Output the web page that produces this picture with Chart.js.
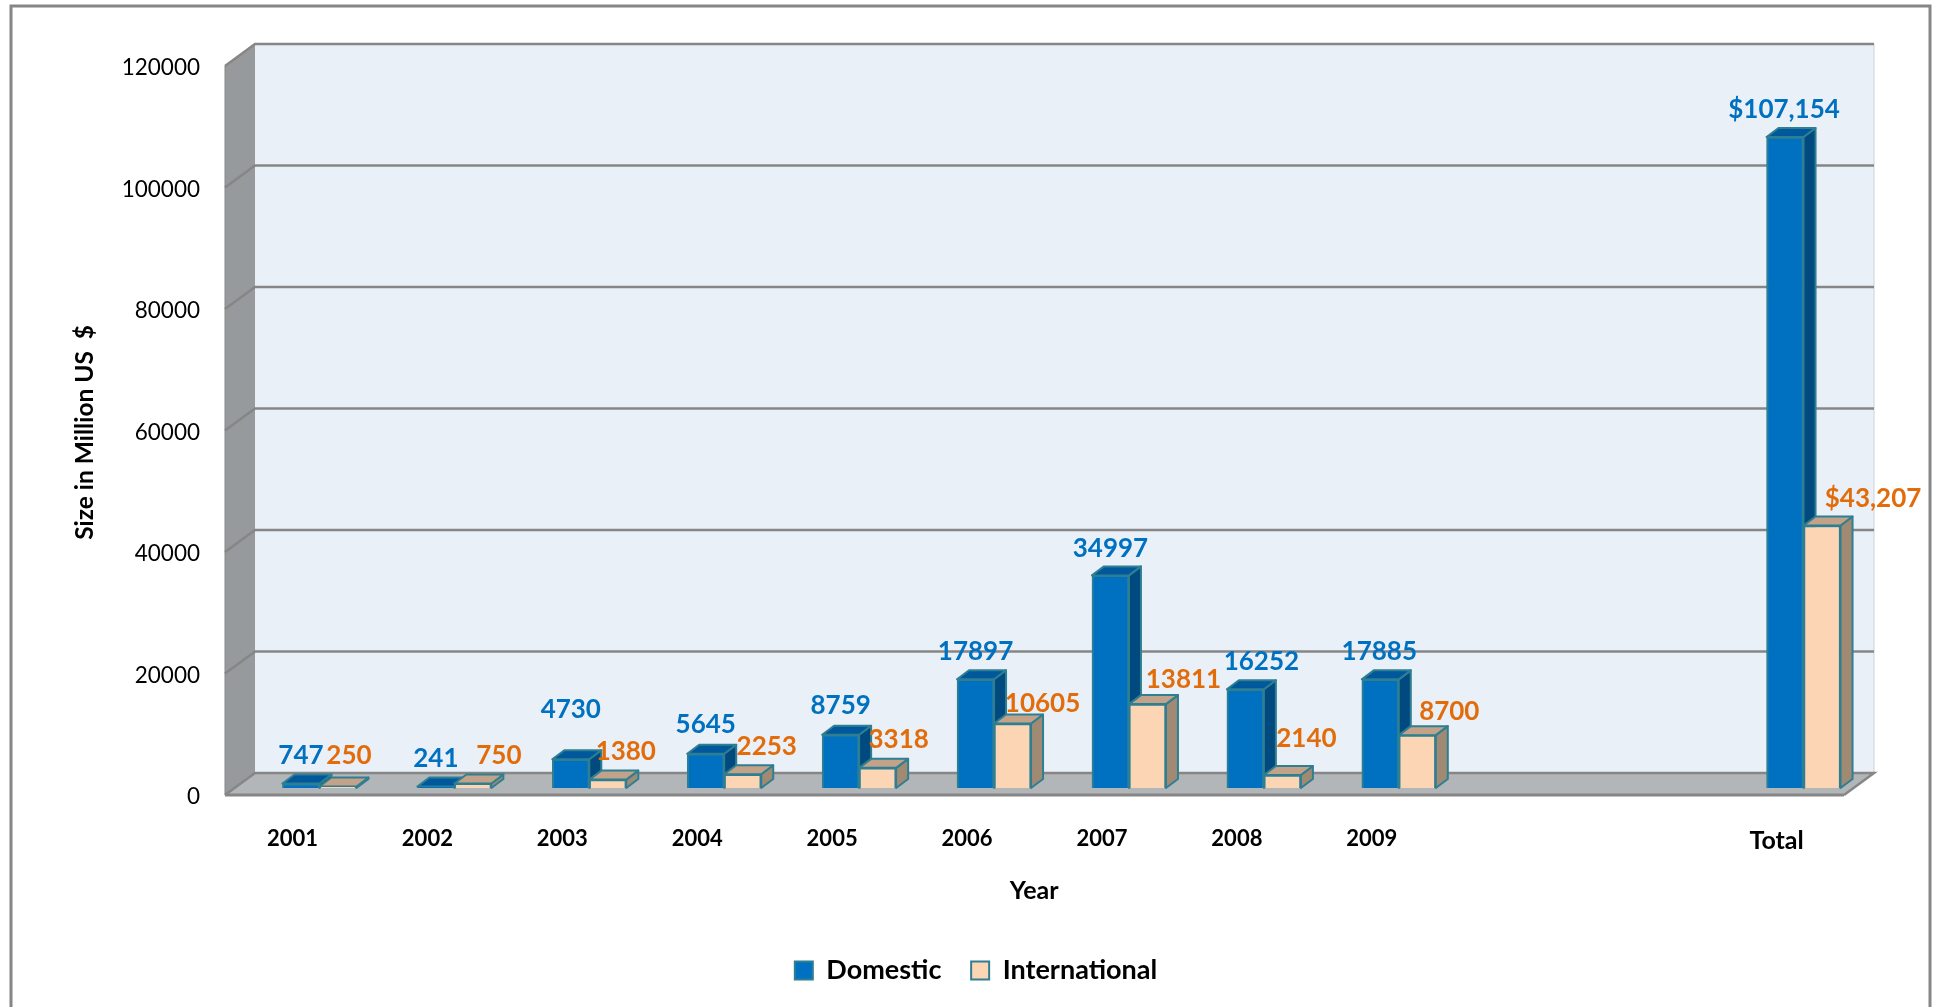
<!DOCTYPE html>
<html>
<head>
<meta charset="utf-8">
<title>Size in Million US $</title>
<script src="https://cdn.jsdelivr.net/npm/chart.js@4"></script>
<style>
    html, body { margin: 0; padding: 0; background: #fff; overflow: hidden; }
    canvas { display: block; }
</style>
</head>
<body>
<canvas id="chart" width="1937" height="1007"></canvas>
<script>
// values, two empty categories sit before Total
var categories = ['2001', '2002', '2003', '2004', '2005', '2006', '2007', '2008', '2009', '', '', 'Total'];
var domestic = [747, 241, 4730, 5645, 8759, 17897, 34997, 16252, 17885, null, null, 107154];
var international = [250, 750, 1380, 2253, 3318, 10605, 13811, 2140, 8700, null, null, 43207];

// hand placed data labels, nudge from the top centre of each bar
var domesticNudgeX = [0, 0, 0, 0, 0, 0, 0, 16, -1, 0, 0, -1];
var domesticNudgeY = [-28, -28, -50, -29, -29, -28, -27, -28, -28, 0, 0, -27];
var internationalNudgeX = [11, 26, 18, 24, 21, 30, 36, 24, 32, 0, 0, 51];
var internationalNudgeY = [-31, -28, -28, -28, -28, -20, -24, -36, -24, 0, 0, -27];

var FONT = 'Lato, "Open Sans", sans-serif';
var GRID = '#868686';

// depth of the box: front plane and back wall relative to the plane of the bars
var FRONT_DX = -27, FRONT_DY = 7;
var BACK_DX = 3, BACK_DY = -15;
var BAR_DX = 12, BAR_DY = 9;

function poly(ctx, pts, fill) {
    ctx.beginPath();
    ctx.moveTo(pts[0][0], pts[0][1]);
    for (var i = 1; i < pts.length; i++) ctx.lineTo(pts[i][0], pts[i][1]);
    ctx.closePath();
    ctx.fillStyle = fill;
    ctx.fill();
}

// walls, floor and gridlines of the 3D box
var boxPlugin = {
    id: 'box',
    beforeDraw: function (chart) {
        var ctx = chart.ctx;
        ctx.save();
        ctx.fillStyle = '#fff';
        ctx.fillRect(0, 0, chart.width, chart.height);
        ctx.strokeStyle = GRID;
        ctx.lineWidth = 3;
        ctx.strokeRect(11, 6, 1919, 1100);
        ctx.restore();
    },
    beforeDatasetsDraw: function (chart) {
        var ctx = chart.ctx, a = chart.chartArea, y = chart.scales.y;
        var fl = a.left + FRONT_DX, fr = a.right + FRONT_DX;
        var bl = a.left + BACK_DX, br = a.right + BACK_DX;
        var zero = y.getPixelForValue(0), top = y.getPixelForValue(120000);
        ctx.save();
        poly(ctx, [[bl, top + BACK_DY], [br, top + BACK_DY], [br, zero + BACK_DY], [bl, zero + BACK_DY]], '#E9F0F7');
        poly(ctx, [[fl, top + FRONT_DY], [bl, top + BACK_DY], [bl, zero + BACK_DY], [fl, zero + FRONT_DY]], '#969A9C');
        poly(ctx, [[fl, zero + FRONT_DY], [bl, zero + BACK_DY], [br, zero + BACK_DY], [fr, zero + FRONT_DY]], '#B2B6B9');

        ctx.strokeStyle = '#CBD3DB';
        ctx.lineWidth = 1;
        ctx.beginPath();
        ctx.moveTo(br, top + BACK_DY);
        ctx.lineTo(br, zero + BACK_DY);
        ctx.stroke();

        ctx.strokeStyle = GRID;
        ctx.lineWidth = 2.5;
        y.ticks.forEach(function (t) {
            var p = y.getPixelForValue(t.value);
            ctx.beginPath();
            ctx.moveTo(fl, p + FRONT_DY);
            ctx.lineTo(bl, p + BACK_DY);
            ctx.lineTo(br, p + BACK_DY);
            if (t.value === 0) ctx.lineTo(fr, p + FRONT_DY);
            ctx.stroke();
        });
        // front edges of the floor and the left wall
        ctx.lineWidth = 3;
        ctx.beginPath();
        ctx.moveTo(fl, zero + FRONT_DY);
        ctx.lineTo(fr, zero + FRONT_DY);
        ctx.stroke();
        ctx.lineWidth = 1;
        ctx.beginPath();
        ctx.moveTo(fl, top + FRONT_DY);
        ctx.lineTo(fl, zero + FRONT_DY);
        ctx.stroke();

        // top and side faces, domestic first so the international front covers its side
        ctx.strokeStyle = '#2F7F92';
        ctx.lineWidth = 2;
        ctx.lineJoin = 'round';
        chart.data.datasets.forEach(function (ds, d) {
            chart.getDatasetMeta(d).data.forEach(function (bar, i) {
                if (ds.data[i] === null) return;
                var l = bar.x - bar.width / 2, r = bar.x + bar.width / 2;
                poly(ctx, [[r, bar.y], [r + BAR_DX, bar.y - BAR_DY], [r + BAR_DX, bar.base - BAR_DY], [r, bar.base]], ds.sideColor);
                ctx.stroke();
                poly(ctx, [[l, bar.y], [l + BAR_DX, bar.y - BAR_DY], [r + BAR_DX, bar.y - BAR_DY], [r, bar.y]], ds.topColor);
                ctx.stroke();
            });
        });
        ctx.restore();
    },
    afterDatasetsDraw: function (chart) {
        var ctx = chart.ctx;
        ctx.save();
        ctx.font = 'bold 26px ' + FONT;
        ctx.textAlign = 'center';
        ctx.textBaseline = 'middle';
        chart.data.datasets.forEach(function (ds, d) {
            ctx.fillStyle = ds.labelColor;
            chart.getDatasetMeta(d).data.forEach(function (bar, i) {
                var v = ds.data[i];
                if (v === null) return;
                var text = categories[i] === 'Total' ? '$' + v.toLocaleString('en-US') : String(v);
                ctx.fillText(text, bar.x + ds.nudgeX[i], bar.y + ds.nudgeY[i]);
            });
        });
        ctx.restore();
    }
};

new Chart(document.getElementById('chart'), {
    type: 'bar',
    data: {
        labels: categories,
        datasets: [{
            label: 'Domestic',
            data: domestic,
            backgroundColor: '#0070C0',
            borderColor: '#2F7F92',
            borderWidth: 2,
            topColor: '#00589C',
            sideColor: '#004A7F',
            labelColor: '#0070C0',
            nudgeX: domesticNudgeX,
            nudgeY: domesticNudgeY
        }, {
            label: 'International',
            data: international,
            backgroundColor: '#FCD5B5',
            borderColor: '#2F7F92',
            borderWidth: 2,
            topColor: '#C2A288',
            sideColor: '#A08A74',
            labelColor: '#E36C0A',
            nudgeX: internationalNudgeX,
            nudgeY: internationalNudgeY
        }]
    },
    plugins: [boxPlugin],
    options: {
        responsive: false,
        animation: false,
        barThickness: 37,
        layout: { padding: { left: 81, right: 66, top: 59, bottom: 13 } },
        plugins: {
            tooltip: { enabled: false },
            legend: {
                position: 'bottom',
                labels: {
                    boxWidth: 18,
                    boxHeight: 18,
                    padding: 10,
                    color: '#000',
                    font: { family: FONT, size: 27, weight: 'bold' },
                    // trailing spaces widen the gap between the two entries
                    generateLabels: function (chart) {
                        var items = Chart.defaults.plugins.legend.labels.generateLabels(chart);
                        items[0].text += '   ';
                        return items;
                    }
                }
            }
        },
        scales: {
            x: {
                grid: { display: false, drawTicks: false },
                border: { display: false },
                ticks: {
                    autoSkip: false,
                    maxRotation: 0,
                    padding: 38,
                    labelOffset: FRONT_DX,
                    color: '#000',
                    font: function (c) {
                        return { family: FONT, size: c.tick && c.tick.label === 'Total' ? 25 : 22, weight: 'bold' };
                    }
                },
                title: {
                    display: true,
                    // trailing spaces pull the centred title left, over the front plane
                    text: 'Year         ',
                    color: '#000',
                    padding: { top: 0, bottom: 41 },
                    font: { family: FONT, size: 25, weight: 'bold' }
                },
                afterFit: function (scale) { scale.height = 159; }
            },
            y: {
                min: 0,
                max: 120000,
                grid: { display: false, drawTicks: false },
                border: { display: false },
                ticks: {
                    stepSize: 20000,
                    padding: 52,
                    labelOffset: FRONT_DY + 2,
                    color: '#000',
                    font: { family: FONT, size: 22.5 },
                    callback: function (v) { return String(v); }
                },
                title: {
                    display: true,
                    text: 'Size in Million US  $   ',
                    color: '#000',
                    padding: { top: -11, bottom: 0 },
                    font: { family: FONT, size: 24.5, weight: 'bold' }
                },
                afterFit: function (scale) {
                    scale.width = 171;
                    // tick padding would otherwise push the chart area down
                    scale.paddingTop = 0;
                    scale.paddingBottom = 0;
                }
            }
        }
    }
});
</script>
</body>
</html>
